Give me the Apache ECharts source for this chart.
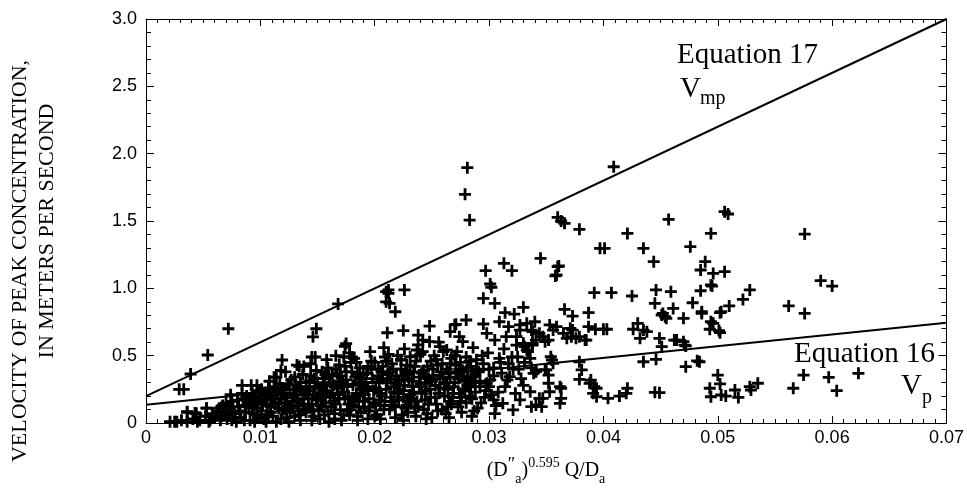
<!DOCTYPE html>
<html>
<head>
<meta charset="utf-8">
<script src="https://cdn.jsdelivr.net/npm/echarts@6/dist/echarts.min.js"></script>
<style>
html,body{margin:0;padding:0;background:#fff;}
#chart{width:967px;height:491px;}
</style>
</head>
<body>
<div id="chart"></div>
<script>
// ---- data ----
const xTickLabels = ['0','0.01','0.02','0.03','0.04','0.05','0.06','0.07'];
const yTickLabels = ['0','0.5','1.0','1.5','2.0','2.5','3.0'];

// Equation 17 (Vmp) and Equation 16 (Vp) lines: endpoints
const eq17Line = [[0, 0.20], [0.07, 3.00]];
const eq16Line = [[0, 0.135], [0.07, 0.745]];

// scattered observations
const outlierPoints = [
  [0.0072,0.70],[0.0054,0.505],[0.0039,0.364],[0.0029,0.25],[0.0033,0.25],
  [0.0168,0.884],[0.0149,0.70],[0.0146,0.64],[0.0145,0.49],[0.0148,0.49],
  [0.0175,0.59],[0.0174,0.57],[0.0173,0.49],[0.0180,0.49],
  [0.0210,0.975],[0.0210,0.90],[0.0211,0.67],
  [0.0119,0.468],[0.0118,0.39],[0.0114,0.34],[0.0132,0.43],[0.0134,0.42],
  [0.0084,0.28],[0.0097,0.28],[0.0053,0.11],[0.0036,0.084],[0.0043,0.074],[0.0021,0.01],[0.0027,0.01],
  [0.0281,1.896],[0.0279,1.698],[0.0283,1.507],[0.0409,1.903],
  [0.0360,1.527],[0.0363,1.50],[0.0366,1.483],[0.0379,1.438],[0.0421,1.408],[0.0457,1.512],
  [0.0397,1.297],[0.0401,1.297],[0.0435,1.297],[0.0444,1.198],
  [0.0345,1.223],[0.0360,1.161],[0.0358,1.092],
  [0.0313,1.186],[0.0320,1.131],[0.0297,1.131],[0.0301,1.032],[0.0302,1.008],[0.0295,0.926],
  [0.0305,0.889],[0.0314,0.819],[0.0322,0.809],[0.0330,0.859],
  [0.0212,0.988],[0.0212,0.963],[0.0213,0.889],[0.0218,0.826],[0.0226,0.988],
  [0.0225,0.686],[0.0248,0.720],[0.0271,0.733],[0.0280,0.765],
  [0.0392,0.968],[0.0407,0.968],[0.0425,0.943],[0.0446,0.988],[0.0459,0.975],
  [0.0445,0.889],[0.0451,0.802],[0.0455,0.777],[0.0461,0.851],
  [0.0366,0.844],[0.0373,0.794],[0.0387,0.819],
  [0.0393,0.696],[0.0400,0.696],[0.0403,0.696],[0.0387,0.715],
  [0.0426,0.696],[0.0430,0.740],[0.0435,0.690],[0.0438,0.678],[0.0432,0.629],
  [0.0449,0.629],[0.0451,0.567],[0.0462,0.616],[0.0470,0.604],[0.0472,0.572],
  [0.0435,0.455],[0.0446,0.473],[0.0445,0.228],
  [0.0404,0.183],[0.0414,0.200],[0.0421,0.258],[0.0420,0.220],
  [0.0379,0.455],[0.0381,0.394],[0.0379,0.324],[0.0388,0.295],[0.0394,0.258],[0.0394,0.195],[0.0391,0.220],[0.0389,0.319],[0.0392,0.27],
  [0.0362,0.27],[0.0363,0.183],[0.0362,0.146],[0.0353,0.232],[0.0347,0.183],[0.0341,0.134],[0.0336,0.232],[0.0339,0.369],
  [0.0354,0.492],[0.0356,0.443],[0.0349,0.394],[0.0352,0.295],[0.0352,0.356],[0.0363,0.258],[0.0344,0.183],[0.0346,0.121],
  [0.0373,0.690],[0.0379,0.641],[0.0385,0.616],
  [0.0356,0.690],[0.0359,0.715],[0.0352,0.616],[0.0365,0.666],[0.0368,0.629],
  [0.0333,0.740],[0.0340,0.752],[0.0337,0.690],[0.0327,0.690],[0.0324,0.641],[0.0330,0.592],[0.0341,0.616],[0.0333,0.542],[0.0347,0.641],
  [0.0338,0.678],[0.0344,0.666],[0.0353,0.728],[0.0349,0.604],[0.0338,0.579],[0.0371,0.703],[0.0372,0.641],[0.0376,0.629],[0.0384,0.616],[0.0355,0.468],[0.0341,0.394],[0.0350,0.394],
  [0.0270,0.728],[0.0295,0.735],[0.0309,0.752],[0.0317,0.715],[0.0327,0.728],
  [0.0266,0.678],[0.0274,0.641],[0.0277,0.604],[0.0298,0.666],[0.0305,0.616],[0.0315,0.641],[0.0324,0.579],[0.0331,0.567],[0.0338,0.592],
  [0.0238,0.653],[0.0242,0.616],[0.0248,0.604],[0.0237,0.542],[0.0257,0.567],[0.0263,0.542],[0.0231,0.492],[0.0223,0.468],
  [0.0318,0.344],[0.0298,0.295],[0.0292,0.27],[0.0304,0.171],[0.0312,0.146],[0.0327,0.171],[0.0337,0.121],[0.0321,0.097],[0.0341,0.381],
  [0.0361,1.166],[0.0359,1.099],[0.0489,1.198],[0.0485,1.136],[0.0496,1.111],[0.0506,1.124],[0.0494,1.025],[0.0485,0.982],[0.0478,0.893],[0.0486,0.826],[0.0503,0.826],[0.0510,0.869],
  [0.0452,0.814],[0.0470,0.777],[0.0494,0.752],[0.0493,0.696],[0.0501,0.686],[0.0464,0.616],[0.0471,0.579],[0.0472,0.418],[0.0482,0.462],
  [0.0500,0.356],[0.0502,0.29],[0.0493,0.258],[0.0494,0.195],[0.0503,0.208],[0.0507,0.2],
  [0.0506,1.569],[0.0509,1.552],[0.0494,1.408],[0.0576,1.403],[0.0476,1.309],[0.0495,1.017],
  [0.0454,0.789],[0.0502,0.819],[0.0522,0.918],[0.0528,0.988],[0.0590,1.057],[0.0600,1.017],[0.0562,0.869],[0.0576,0.814],
  [0.0515,0.245],[0.0518,0.19],[0.0528,0.27],[0.0529,0.245],[0.0535,0.295],
  [0.0566,0.258],[0.0575,0.356],[0.0597,0.339],[0.0604,0.24],[0.0623,0.369],[0.0449,0.225],[0.0484,0.455],[0.0486,0.814],[0.0502,0.671],[0.0496,0.74]
];

// dense cluster of observations (low flows)
const clusterPoints = [
  [0.0025,0.01],[0.0031,0.02],[0.0036,0.01],[0.0041,0.03],[0.0044,0.07],[0.0047,0.02],[0.0052,0.05],[0.0036,0.08],[0.0043,0.075],[0.0053,0.11],[0.0056,0.02],
  [0.0060,0.04],[0.0062,0.09],[0.0065,0.02],[0.0067,0.13],[0.0069,0.06],
  [0.0071,0.03],[0.0073,0.10],[0.0075,0.16],[0.0077,0.07],[0.0079,0.01],[0.0074,0.21],
  [0.0081,0.12],[0.0083,0.04],[0.0085,0.18],[0.0087,0.08],[0.0089,0.15],[0.0084,0.22],
  [0.0091,0.02],[0.0093,0.11],[0.0095,0.19],[0.0097,0.06],[0.0099,0.24],[0.0092,0.28],[0.0098,0.15],
  [0.0101,0.09],[0.0103,0.03],[0.0105,0.17],[0.0107,0.26],[0.0109,0.12],[0.0104,0.21],[0.0108,0.31],
  [0.0111,0.05],[0.0113,0.14],[0.0115,0.22],[0.0117,0.29],[0.0119,0.09],[0.0112,0.34],[0.0118,0.18],[0.0114,0.01],
  [0.0121,0.25],[0.0123,0.04],[0.0125,0.13],[0.0127,0.32],[0.0129,0.20],[0.0122,0.38],[0.0126,0.08],
  [0.0131,0.16],[0.0133,0.27],[0.0135,0.02],[0.0137,0.36],[0.0139,0.10],[0.0132,0.21],[0.0138,0.42],[0.0134,0.06],
  [0.0141,0.24],[0.0143,0.31],[0.0145,0.14],[0.0147,0.05],[0.0149,0.39],[0.0142,0.18],[0.0148,0.27],[0.0144,0.44],
  [0.0151,0.09],[0.0153,0.22],[0.0155,0.33],[0.0157,0.15],[0.0159,0.41],[0.0152,0.03],[0.0156,0.28],[0.0158,0.47],
  [0.0161,0.19],[0.0163,0.36],[0.0165,0.07],[0.0167,0.26],[0.0169,0.43],[0.0162,0.12],[0.0166,0.50],[0.0168,0.31],
  [0.0171,0.02],[0.0173,0.23],[0.0175,0.38],[0.0177,0.14],[0.0179,0.45],[0.0172,0.30],[0.0176,0.09],[0.0178,0.52],
  [0.0181,0.18],[0.0183,0.34],[0.0185,0.05],[0.0187,0.41],[0.0189,0.25],[0.0182,0.48],[0.0186,0.12],[0.0188,0.29],
  [0.0191,0.21],[0.0193,0.37],[0.0195,0.09],[0.0197,0.46],[0.0199,0.15],[0.0192,0.30],[0.0196,0.53],[0.0194,0.03],
  [0.0201,0.26],[0.0203,0.40],[0.0205,0.13],[0.0207,0.33],[0.0209,0.49],[0.0202,0.06],[0.0206,0.20],[0.0208,0.56],
  [0.0211,0.36],[0.0213,0.10],[0.0215,0.44],[0.0217,0.23],[0.0219,0.29],[0.0212,0.51],[0.0216,0.16],[0.0218,0.04],
  [0.0221,0.31],[0.0223,0.47],[0.0225,0.19],[0.0227,0.38],[0.0229,0.08],[0.0222,0.25],[0.0226,0.55],[0.0228,0.13],
  [0.0231,0.42],[0.0233,0.27],[0.0235,0.11],[0.0237,0.50],[0.0239,0.34],[0.0232,0.18],[0.0236,0.05],[0.0238,0.58],
  [0.0241,0.22],[0.0243,0.39],[0.0245,0.30],[0.0247,0.14],[0.0249,0.46],[0.0242,0.53],[0.0246,0.07],
  [0.0251,0.35],[0.0253,0.19],[0.0255,0.43],[0.0257,0.26],[0.0259,0.10],[0.0252,0.50],[0.0256,0.60],
  [0.0261,0.29],[0.0263,0.40],[0.0265,0.16],[0.0267,0.48],[0.0269,0.22],[0.0262,0.07],[0.0266,0.34],
  [0.0271,0.37],[0.0273,0.12],[0.0275,0.45],[0.0277,0.25],[0.0279,0.31],[0.0272,0.53],[0.0276,0.19],
  [0.0281,0.41],[0.0283,0.20],[0.0285,0.34],[0.0287,0.09],[0.0289,0.47],[0.0282,0.27],[0.0286,0.56],
  [0.0291,0.38],[0.0293,0.15],[0.0295,0.44],[0.0297,0.24],[0.0299,0.52],
  [0.0301,0.32],[0.0304,0.41],[0.0306,0.13],[0.0309,0.48],[0.0302,0.21],
  [0.0311,0.37],[0.0314,0.27],[0.0317,0.44],[0.0313,0.55],
  [0.0321,0.40],[0.0325,0.49],[0.0328,0.33],[0.0323,0.22],
  [0.0331,0.45],[0.0334,0.53],[0.0337,0.41]
];

// more of the dense cluster, between the ones above
const clusterPointsB = [
  [0.0058,0.07],[0.0064,0.11],[0.0066,0.05],[0.0070,0.15],[0.0072,0.08],[0.0076,0.12],[0.0078,0.04],[0.0080,0.17],
  [0.0082,0.09],[0.0086,0.02],[0.0088,0.20],[0.0090,0.13],[0.0094,0.07],[0.0096,0.16],[0.0100,0.20],[0.0098,0.04],
  [0.0102,0.14],[0.0106,0.06],[0.0108,0.23],[0.0110,0.18],[0.0112,0.27],[0.0116,0.11],[0.0118,0.03],[0.0120,0.21],
  [0.0122,0.15],[0.0124,0.29],[0.0126,0.22],[0.0128,0.11],[0.0130,0.34],[0.0130,0.05],[0.0134,0.13],[0.0136,0.24],
  [0.0138,0.18],[0.0140,0.30],[0.0140,0.08],[0.0144,0.35],[0.0146,0.21],[0.0146,0.10],[0.0150,0.30],[0.0150,0.17],
  [0.0154,0.38],[0.0154,0.12],[0.0156,0.06],[0.0158,0.24],[0.0160,0.35],[0.0160,0.01],[0.0164,0.28],[0.0164,0.16],
  [0.0166,0.40],[0.0168,0.21],[0.0170,0.10],[0.0170,0.35],[0.0174,0.42],[0.0174,0.18],[0.0176,0.27],[0.0178,0.06],
  [0.0180,0.38],[0.0180,0.13],[0.0184,0.22],[0.0184,0.45],[0.0186,0.30],[0.0188,0.08],[0.0190,0.36],[0.0190,0.16],
  [0.0194,0.42],[0.0194,0.25],[0.0196,0.12],[0.0198,0.33],[0.0200,0.05],[0.0200,0.45],[0.0204,0.30],[0.0204,0.17],
  [0.0206,0.38],[0.0208,0.10],[0.0210,0.25],[0.0210,0.46],[0.0214,0.33],[0.0214,0.19],[0.0216,0.40],[0.0218,0.12],
  [0.0220,0.22],[0.0220,0.50],[0.0224,0.35],[0.0224,0.06],[0.0226,0.28],[0.0228,0.43],[0.0230,0.16],[0.0230,0.32],
  [0.0234,0.38],[0.0234,0.23],[0.0236,0.46],[0.0238,0.12],[0.0240,0.29],[0.0240,0.51],[0.0244,0.17],[0.0244,0.35],
  [0.0246,0.42],[0.0248,0.25],[0.0250,0.04],[0.0250,0.31],[0.0254,0.47],[0.0254,0.14],[0.0256,0.22],[0.0258,0.38],
  [0.0260,0.33],[0.0260,0.53],[0.0264,0.12],[0.0264,0.25],[0.0266,0.44],[0.0268,0.19],[0.0270,0.30],[0.0270,0.50],
  [0.0274,0.40],[0.0274,0.22],[0.0276,0.08],[0.0278,0.35],[0.0280,0.15],[0.0280,0.49],[0.0284,0.28],[0.0284,0.42],
  [0.0288,0.23],[0.0288,0.36],[0.0290,0.11],[0.0292,0.31],[0.0294,0.50],[0.0296,0.19],[0.0300,0.40],[0.0300,0.27],
  [0.0304,0.35],[0.0308,0.23],[0.0310,0.45],[0.0316,0.32],[0.0320,0.49],[0.0326,0.40],[0.0330,0.28],[0.0336,0.48],
  [0.0105,0.01],[0.0125,0.01],[0.0145,0.02],[0.0165,0.03],[0.0185,0.02],[0.0205,0.03],[0.0225,0.02],[0.0245,0.03],
  [0.0265,0.04],[0.0285,0.05],[0.0305,0.07],[0.0095,0.01],[0.0075,0.02],[0.0055,0.01],[0.0045,0.01]
];

// core of the cluster, where the marks merge into a solid patch
const clusterPointsC = [
  [0.0087,0.13],[0.0091,0.17],[0.0093,0.22],[0.0097,0.11],[0.0101,0.25],[0.0103,0.18],[0.0106,0.13],[0.0109,0.08],
  [0.0111,0.20],[0.0113,0.25],[0.0116,0.15],[0.0119,0.26],[0.0121,0.10],[0.0123,0.19],[0.0125,0.28],[0.0128,0.16],
  [0.0131,0.25],[0.0133,0.09],[0.0135,0.30],[0.0137,0.14],[0.0139,0.22],[0.0142,0.12],[0.0143,0.27],[0.0147,0.33],
  [0.0149,0.19],[0.0151,0.26],[0.0153,0.13],[0.0155,0.20],[0.0157,0.36],[0.0159,0.09],[0.0161,0.30],[0.0163,0.22],
  [0.0165,0.14],[0.0167,0.37],[0.0169,0.18],[0.0171,0.27],[0.0173,0.06],[0.0175,0.32],[0.0177,0.20],[0.0179,0.10],
  [0.0181,0.28],[0.0183,0.16],[0.0185,0.36],[0.0187,0.20],[0.0189,0.33],[0.0191,0.11],[0.0193,0.27],[0.0195,0.18],
  [0.0197,0.40],[0.0199,0.24],[0.0201,0.14],[0.0203,0.35],[0.0205,0.22],[0.0207,0.42],[0.0209,0.16],[0.0211,0.30],
  [0.0213,0.38],[0.0215,0.13],[0.0217,0.27],[0.0219,0.35],[0.0221,0.17],[0.0223,0.40],[0.0225,0.24],[0.0227,0.11],
  [0.0229,0.36],[0.0231,0.21],[0.0233,0.31],[0.0235,0.42],[0.0237,0.16],[0.0239,0.27],[0.0241,0.37],[0.0243,0.10],
  [0.0245,0.24],[0.0247,0.33],[0.0249,0.19],[0.0251,0.40],[0.0253,0.28],[0.0255,0.09],[0.0257,0.33],[0.0259,0.44],
  [0.0261,0.20],[0.0263,0.30],[0.0265,0.38],[0.0267,0.14],[0.0269,0.27],[0.0271,0.43],[0.0273,0.33],[0.0275,0.16],
  [0.0277,0.39],[0.0279,0.24],[0.0281,0.33],[0.0283,0.46],[0.0285,0.18],[0.0287,0.30],[0.0289,0.40]
];

// ---- chart ----
const chart = echarts.init(document.getElementById('chart'), null, {renderer:'canvas'});
const plusPath = 'path://M0,4.6H12V7.4H0Z M4.6,0H7.4V12H4.6Z';
const axisColor = '#000';
const sans = '"Liberation Sans", Arial, sans-serif';
const serif = '"Liberation Serif", "Times New Roman", serif';

function xAxisCfg(pos, labels) {
  return {
    type:'value', position:pos, min:0, max:0.07, interval:0.01,
    axisLine:{show:true, onZero:false, lineStyle:{color:axisColor, width:1}},
    axisTick:{show:true, inside:true, length:7, lineStyle:{color:axisColor}},
    minorTick:{show:true, splitNumber:10, length:4, lineStyle:{color:axisColor}},
    splitLine:{show:false},
    axisLabel:{show:labels, color:'#000', fontFamily:sans, fontSize:18, margin:6,
      formatter:(v)=>xTickLabels[Math.round(v/0.01)]}
  };
}
function yAxisCfg(pos, labels) {
  return {
    type:'value', position:pos, min:0, max:3, interval:0.5,
    axisLine:{show:true, onZero:false, lineStyle:{color:axisColor, width:1}},
    axisTick:{show:true, inside:true, length:8, lineStyle:{color:axisColor}},
    minorTick:{show:true, splitNumber:5, length:5, lineStyle:{color:axisColor}},
    splitLine:{show:false},
    axisLabel:{show:labels, color:'#000', fontFamily:sans, fontSize:18, margin:9,
      formatter:(v)=>yTickLabels[Math.round(v/0.5)]}
  };
}

chart.setOption({
  animation:false,
  backgroundColor:'#fff',
  grid:{left:146, top:19, width:801, height:404, containLabel:false},
  xAxis:[xAxisCfg('bottom', true), xAxisCfg('top', false)],
  yAxis:[yAxisCfg('left', true), yAxisCfg('right', false)],
  series:[
    {type:'scatter', xAxisIndex:0, yAxisIndex:0, symbol:plusPath, symbolSize:12,
     itemStyle:{color:'#000', opacity:1}, large:false,
     data:clusterPoints.concat(clusterPointsB, clusterPointsC, outlierPoints), clip:false},
    {type:'line', xAxisIndex:0, yAxisIndex:0, data:eq17Line, symbol:'none',
     lineStyle:{color:'#000', width:2}},
    {type:'line', xAxisIndex:0, yAxisIndex:0, data:eq16Line, symbol:'none',
     lineStyle:{color:'#000', width:2}}
  ],
  graphic:[
    {type:'text', x:20, y:261, rotation:Math.PI/2,
     style:{text:'VELOCITY OF PEAK CONCENTRATION,', font:'22px '+serif, fill:'#000', align:'center', verticalAlign:'middle'}},
    {type:'text', x:47, y:231, rotation:Math.PI/2,
     style:{text:'IN METERS PER SECOND', font:'22px '+serif, fill:'#000', align:'center', verticalAlign:'middle'}},
    {type:'text', x:546, y:471,
     style:{text:'(D{p|″}{sb|a}){sp|0.595} Q/D{sb|a}', font:'20px '+serif, fill:'#000', align:'center', verticalAlign:'middle',
       rich:{
         p:{fontFamily:serif, fontSize:18, verticalAlign:'top', lineHeight:30},
         sb:{fontFamily:serif, fontSize:14, verticalAlign:'bottom', lineHeight:30},
         sp:{fontFamily:serif, fontSize:14, verticalAlign:'top', lineHeight:30}
       }}},
    {type:'text', x:677, y:55,
     style:{text:'Equation 17', font:'29px '+serif, fill:'#000', align:'left', verticalAlign:'middle'}},
    {type:'text', x:680, y:89,
     style:{text:'V', font:'29px '+serif, fill:'#000', align:'left', verticalAlign:'middle'}},
    {type:'text', x:700, y:99,
     style:{text:'mp', font:'20px '+serif, fill:'#000', align:'left', verticalAlign:'middle'}},
    {type:'text', x:935, y:354,
     style:{text:'Equation 16', font:'29px '+serif, fill:'#000', align:'right', verticalAlign:'middle'}},
    {type:'text', x:901, y:386,
     style:{text:'V', font:'29px '+serif, fill:'#000', align:'left', verticalAlign:'middle'}},
    {type:'text', x:922, y:398,
     style:{text:'p', font:'20px '+serif, fill:'#000', align:'left', verticalAlign:'middle'}}
  ]
});
</script>
</body>
</html>
